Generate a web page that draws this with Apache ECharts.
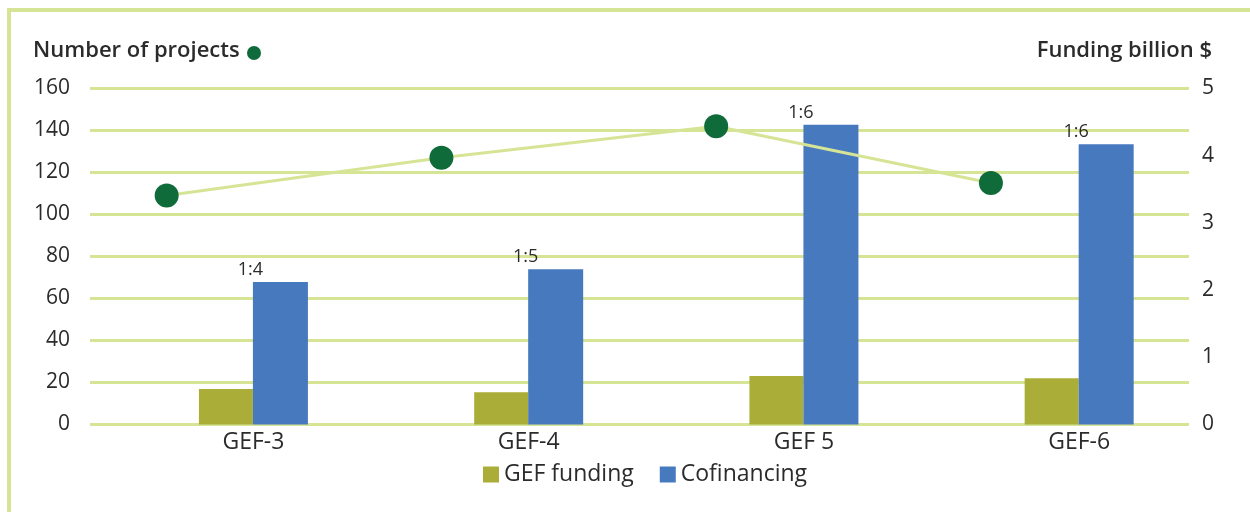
<!DOCTYPE html>
<html>
<head>
<meta charset="utf-8">
<script src="https://cdn.jsdelivr.net/npm/echarts@6/dist/echarts.min.js"></script>
<style>
  html, body { margin: 0; padding: 0; background: #fff; }
  #chart { width: 1250px; height: 512px; }
</style>
</head>
<body>
<div id="chart"></div>
<script>
  // data
  var periods = ['GEF-3', 'GEF-4', 'GEF 5', 'GEF-6'];
  var gefFunding = [0.53, 0.48, 0.72, 0.69];      // billion $
  var cofinancing = [2.12, 2.31, 4.46, 4.17];     // billion $
  var projects = [109, 127, 142, 115];            // number of projects
  var ratios = ['1:4', '1:5', '1:6', '1:6'];

  var green = '#d6e496';
  var textColor = '#2b2b2b';
  var font = '"Open Sans"';

  var chart = echarts.init(document.getElementById('chart'));

  var gridTop = 88.5, gridBottom = 87.5;

  chart.setOption({
    animation: false,
    textStyle: { fontFamily: font, color: textColor },
    graphic: [
      {
        type: 'rect', silent: true,
        shape: { x: 9, y: 10, width: 1300, height: 600 },
        style: { fill: 'none', stroke: green, lineWidth: 4 }
      },
      {
        type: 'circle', silent: true,
        shape: { cx: 254, cy: 53, r: 7 },
        style: { fill: '#0f6b3a' }
      }
    ],
    title: [
      { text: 'Number of projects', left: 28, top: 35,
        textStyle: { fontFamily: font, fontSize: 22, fontWeight: 600, color: textColor } },
      { text: 'Funding billion $', right: 33, top: 35,
        textStyle: { fontFamily: font, fontSize: 22, fontWeight: 600, color: textColor } }
    ],
    legend: {
      data: ['GEF funding', 'Cofinancing'],
      left: 478, top: 458,
      icon: 'rect', itemWidth: 16, itemHeight: 16, itemGap: 26,
      textStyle: { fontFamily: font, fontSize: 23, color: textColor }
    },
    grid: [
      // axes + gridlines
      { left: 90, width: 1099, top: gridTop, bottom: gridBottom },
      // bars
      { left: 115.8, width: 1101, top: gridTop, bottom: gridBottom },
      // projects line
      { left: 29.3, width: 1099, top: gridTop, bottom: gridBottom }
    ],
    xAxis: [
      { gridIndex: 0, type: 'category', data: periods, show: false },
      { gridIndex: 1, type: 'category', data: periods,
        axisLine: { show: false }, axisTick: { show: false },
        axisLabel: { fontFamily: font, fontSize: 23, color: textColor, margin: 6 } },
      { gridIndex: 2, type: 'category', data: periods, show: false }
    ],
    yAxis: [
      { gridIndex: 0, type: 'value', min: 0, max: 160, interval: 20, position: 'left',
        axisLine: { show: false }, axisTick: { show: false },
        axisLabel: { fontFamily: font, fontSize: 21, color: textColor, margin: 20 },
        splitLine: { lineStyle: { color: green, width: 3 } } },
      { gridIndex: 0, type: 'value', min: 0, max: 5, interval: 1, position: 'right',
        axisLine: { show: false }, axisTick: { show: false },
        axisLabel: { fontFamily: font, fontSize: 21, color: textColor, margin: 13 },
        splitLine: { show: false } },
      { gridIndex: 1, type: 'value', min: 0, max: 5, show: false },
      { gridIndex: 2, type: 'value', min: 0, max: 160, show: false }
    ],
    series: [
      {
        name: 'GEF funding', type: 'bar',
        xAxisIndex: 1, yAxisIndex: 2,
        data: gefFunding, barWidth: 54, barGap: '0%',
        itemStyle: { color: '#aaae38' }
      },
      {
        name: 'Cofinancing', type: 'bar',
        xAxisIndex: 1, yAxisIndex: 2,
        data: cofinancing, barWidth: 55, barGap: '0%',
        itemStyle: { color: '#4779bf' },
        label: {
          show: true, position: 'top', distance: 3, offset: [-30, 0],
          fontFamily: font, fontSize: 18, color: textColor,
          formatter: function (p) { return ratios[p.dataIndex]; }
        }
      },
      {
        name: 'Number of projects', type: 'line',
        xAxisIndex: 2, yAxisIndex: 3,
        data: projects,
        symbol: 'circle', symbolSize: 24,
        lineStyle: { color: green, width: 3 },
        itemStyle: { color: '#0f6b3a' }
      }
    ]
  });
</script>
</body>
</html>
